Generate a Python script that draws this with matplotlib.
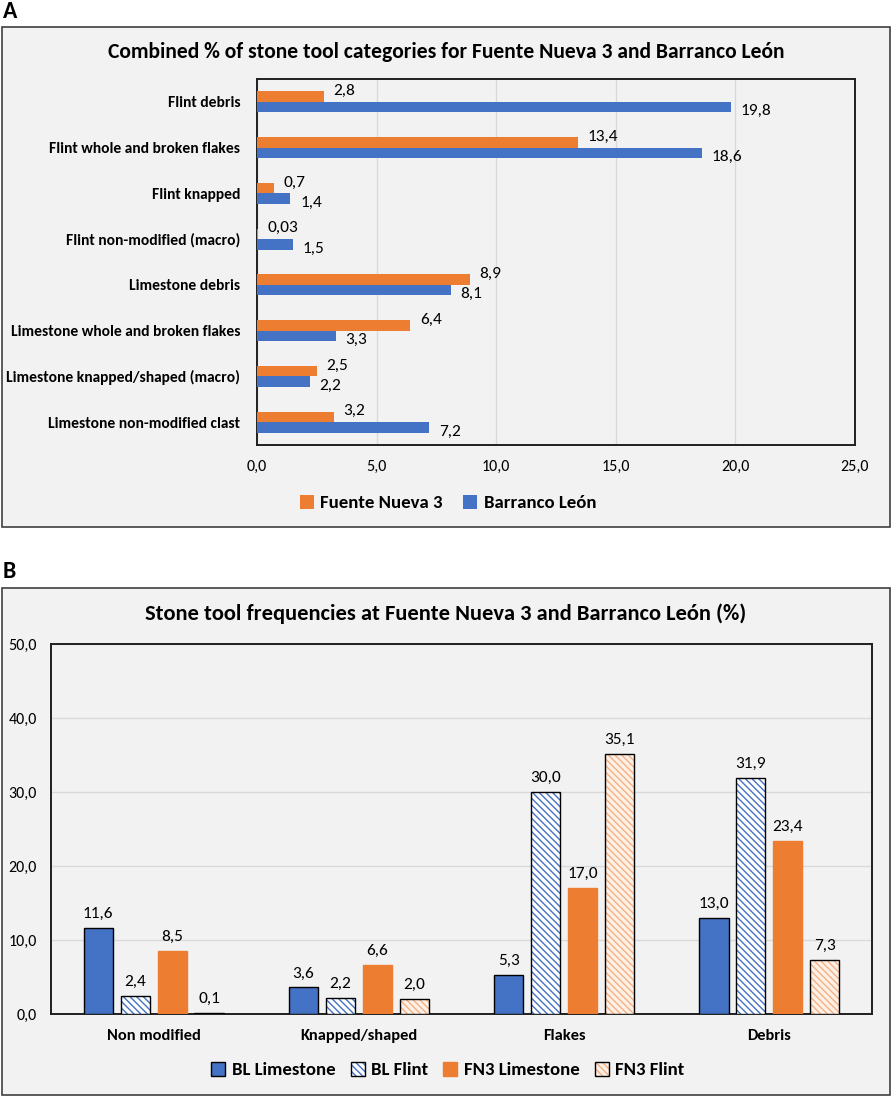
import numpy as np
import matplotlib
matplotlib.use("Agg")
import matplotlib.pyplot as plt
from matplotlib import font_manager
from matplotlib.patches import Rectangle, Patch
from matplotlib.ticker import FuncFormatter

# Panel A data (top to bottom)
catA = ['Flint debris', 'Flint whole and broken flakes', 'Flint knapped',
        'Flint non-modified (macro)', 'Limestone debris',
        'Limestone whole and broken flakes', 'Limestone knapped/shaped (macro)',
        'Limestone non-modified clast']
fn3A = [2.8, 13.4, 0.7, 0.03, 8.9, 6.4, 2.5, 3.2]
blA = [19.8, 18.6, 1.4, 1.5, 8.1, 3.3, 2.2, 7.2]
fn3A_lbl = ['2,8', '13,4', '0,7', '0,03', '8,9', '6,4', '2,5', '3,2']
blA_lbl = ['19,8', '18,6', '1,4', '1,5', '8,1', '3,3', '2,2', '7,2']

# Panel B data
catB = ['Non modified', 'Knapped/shaped', 'Flakes', 'Debris']
bl_lime = [11.6, 3.6, 5.3, 13.0]
bl_flint = [2.4, 2.2, 30.0, 31.9]
fn3_lime = [8.5, 6.6, 17.0, 23.4]
fn3_flint = [0.1, 2.0, 35.1, 7.3]

# pick a Calibri-like font if one is around
avail = set(f.name for f in font_manager.fontManager.ttflist)
main_font = 'DejaVu Sans'
for cand in ['Carlito', 'Liberation Sans Narrow', 'Lato']:
    if cand in avail:
        main_font = cand
        break
plt.rcParams['font.family'] = [main_font, 'DejaVu Sans']
plt.rcParams['hatch.linewidth'] = 1.0

orange = '#ED7D31'
blue = '#4472C4'
bg = '#F2F2F2'
grid = '#D9D9D9'

W, H = 892, 1097
fig = plt.figure(figsize=(W / 100, H / 100), dpi=100)


def fx(px):
    return px / W


def fy(py):
    return 1 - py / H


# panel boxes
for top, bot in [(27, 527), (588, 1095)]:
    fig.patches.append(Rectangle((fx(2), fy(bot)), fx(888), (bot - top) / H,
                                 transform=fig.transFigure, facecolor=bg,
                                 edgecolor='#404040', linewidth=1.2, zorder=-5))

fig.text(fx(3), fy(11), 'A', fontsize=17, fontweight='bold', va='center', ha='left')
fig.text(fx(3), fy(571), 'B', fontsize=17, fontweight='bold', va='center', ha='left')

comma = FuncFormatter(lambda v, p: ('%.1f' % v).replace('.', ','))

# ---------------- Panel A ----------------
axA = fig.add_axes([fx(257), fy(445), fx(855 - 257), (445 - 79) / H])
axA.set_facecolor(bg)
y = np.arange(len(catA))
h = 0.23
axA.barh(y - h / 2, fn3A, height=h, color=orange, label='Fuente Nueva 3', zorder=3)
axA.barh(y + h / 2, blA, height=h, color=blue, label='Barranco León', zorder=3)
for i in range(len(catA)):
    axA.annotate(fn3A_lbl[i], (fn3A[i], y[i] - h / 2), xytext=(7, 4),
                 textcoords='offset points', va='center', ha='left', fontsize=12.5)
    axA.annotate(blA_lbl[i], (blA[i], y[i] + h / 2), xytext=(7, -3),
                 textcoords='offset points', va='center', ha='left', fontsize=12.5)
axA.set_ylim(len(catA) - 0.5, -0.5)
axA.set_xlim(0, 25)
axA.set_xticks(np.arange(0, 26, 5))
axA.xaxis.set_major_formatter(comma)
axA.set_yticks(y)
axA.set_yticklabels(catA, fontweight='bold', fontsize=11.2)
axA.tick_params(axis='both', length=0)
axA.tick_params(axis='x', pad=11, labelsize=11.5)
axA.tick_params(axis='y', pad=12)
axA.grid(axis='x', color=grid, linewidth=1, zorder=0)
for s in axA.spines.values():
    s.set_color('#202020')
    s.set_linewidth(1.4)
fig.text(0.5, fy(52), 'Combined % of stone tool categories for Fuente Nueva 3 and Barranco León',
         ha='center', va='center', fontsize=15.6, fontweight='bold')
fig.legend(*axA.get_legend_handles_labels(), loc='center', bbox_to_anchor=(fx(448), fy(503)),
           ncol=2, frameon=False, prop={'weight': 'bold', 'size': 13.5},
           handlelength=0.75, handleheight=0.75, handletextpad=0.35, columnspacing=1.1)

# ---------------- Panel B ----------------
axB = fig.add_axes([fx(51), fy(1014), fx(872 - 51), (1014 - 644) / H])
axB.set_facecolor(bg)
x = np.arange(len(catB))
step = 0.18
w = 0.142
offs = [-1.5 * step, -0.5 * step, 0.5 * step, 1.5 * step]

axB.bar(x + offs[0], bl_lime, w, color=blue, edgecolor='black', linewidth=1, zorder=3)
axB.bar(x + offs[1], bl_flint, w, color='white', edgecolor=blue, hatch='\\\\\\\\\\',
        linewidth=0, zorder=3)
axB.bar(x + offs[1], bl_flint, w, color='none', edgecolor='black', linewidth=1, zorder=4)
axB.bar(x + offs[2], fn3_lime, w, color=orange, edgecolor=orange, linewidth=1, zorder=3)
axB.bar(x + offs[3], fn3_flint, w, color='#FDF0E6', edgecolor='#F4B183', hatch='\\\\\\\\\\',
        linewidth=0, zorder=3)
axB.bar(x + offs[3], fn3_flint, w, color='none', edgecolor='black', linewidth=1, zorder=4)

for vals, off in [(bl_lime, offs[0]), (bl_flint, offs[1]), (fn3_lime, offs[2]), (fn3_flint, offs[3])]:
    for i, v in enumerate(vals):
        axB.annotate(('%.1f' % v).replace('.', ','), (x[i] + off, v), xytext=(0, 5),
                     textcoords='offset points', ha='center', va='bottom', fontsize=12.5)

axB.set_xlim(-0.5, len(catB) - 0.5)
axB.set_ylim(0, 50)
axB.set_yticks(np.arange(0, 51, 10))
axB.yaxis.set_major_formatter(comma)
axB.set_xticks(x)
axB.set_xticklabels(catB, fontweight='bold', fontsize=11.8)
axB.tick_params(axis='both', length=0)
axB.tick_params(axis='x', pad=11)
axB.tick_params(axis='y', pad=10, labelsize=11.5)
axB.grid(axis='y', color=grid, linewidth=1, zorder=0)
for s in axB.spines.values():
    s.set_color('#202020')
    s.set_linewidth(1.4)
fig.text(0.5, fy(614), 'Stone tool frequencies at Fuente Nueva 3 and Barranco León (%)',
         ha='center', va='center', fontsize=16.2, fontweight='bold')

hB = [Patch(facecolor=blue, edgecolor='black'),
      (Patch(facecolor='white', edgecolor=blue, hatch='\\\\\\\\\\', linewidth=0),
       Patch(facecolor='none', edgecolor='black')),
      Patch(facecolor=orange, edgecolor=orange),
      (Patch(facecolor='#FDF0E6', edgecolor='#F4B183', hatch='\\\\\\\\\\', linewidth=0),
       Patch(facecolor='none', edgecolor='black'))]
fig.legend(hB, ['BL Limestone', 'BL Flint', 'FN3 Limestone', 'FN3 Flint'], loc='center',
           bbox_to_anchor=(fx(448), fy(1070)), ncol=4, frameon=False,
           prop={'weight': 'bold', 'size': 13.5}, handlelength=0.75, handleheight=0.75,
           handletextpad=0.35, columnspacing=0.8)

fig.savefig('out.png', dpi=100, facecolor='white')
